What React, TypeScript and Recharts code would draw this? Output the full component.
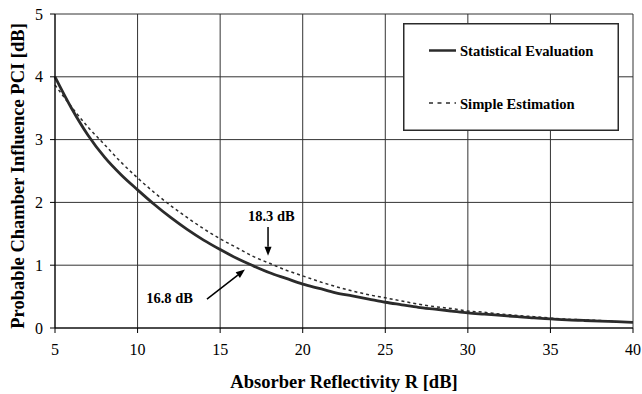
import React from "react";
import {
  LineChart,
  Line,
  XAxis,
  YAxis,
  CartesianGrid,
  ReferenceLine,
  ReferenceDot,
} from "recharts";

const reflectivity = [
  5, 6, 7, 8, 9, 10, 11, 12, 13, 14, 15, 16, 17, 18, 19, 20, 21, 22, 23, 24,
  25, 26, 27, 28, 29, 30, 31, 32, 33, 34, 35, 36, 37, 38, 39, 40,
];
const statistical = [
  4.0, 3.5, 3.07, 2.72, 2.44, 2.2, 1.97, 1.76, 1.57, 1.4, 1.25, 1.11, 0.99,
  0.88, 0.79, 0.7, 0.63, 0.56, 0.51, 0.46, 0.41, 0.37, 0.33, 0.3, 0.27, 0.24,
  0.22, 0.2, 0.18, 0.16, 0.145, 0.13, 0.12, 0.11, 0.1, 0.09,
];
const simple = [
  3.87, 3.52, 3.2, 2.92, 2.64, 2.39, 2.16, 1.95, 1.76, 1.58, 1.42, 1.28, 1.14,
  1.03, 0.92, 0.83, 0.74, 0.66, 0.59, 0.53, 0.48, 0.43, 0.38, 0.34, 0.31,
  0.27, 0.25, 0.22, 0.2, 0.18, 0.16, 0.14, 0.13, 0.12, 0.1, 0.09,
];
const xTicks = [5, 10, 15, 20, 25, 30, 35, 40];
const yTicks = [0, 1, 2, 3, 4, 5];
const seriesNames = ["Statistical Evaluation", "Simple Estimation"];
const annotationTexts = ["18.3 dB", "16.8 dB"];

const data = reflectivity.map((r, i) => ({
  r,
  stat: statistical[i],
  simple: simple[i],
}));

const FONT = "'Liberation Serif', 'Times New Roman', serif";
const INK = "#2b2b2b";

const Arrow = (props: any) => {
  const { x1, y1, x2, y2 } = props;
  const ang = Math.atan2(y2 - y1, x2 - x1);
  const L = 9;
  const W = 3.5;
  const bx = x2 - L * Math.cos(ang);
  const by = y2 - L * Math.sin(ang);
  const px = -Math.sin(ang) * W;
  const py = Math.cos(ang) * W;
  return (
    <g>
      <line x1={x1} y1={y1} x2={bx} y2={by} stroke="#000" strokeWidth={1.5} />
      <polygon
        points={`${x2},${y2} ${bx + px},${by + py} ${bx - px},${by - py}`}
        fill="#000"
      />
    </g>
  );
};

const LegendBox = () => (
  <svg width={216} height={108} style={{ display: "block" }}>
    <rect x={0.75} y={0.75} width={214.5} height={106.5} fill="#fff" stroke={INK} strokeWidth={1.5} />
    <line x1={26} y1={27.5} x2={53} y2={27.5} stroke={INK} strokeWidth={2.5} />
    <text x={57} y={28} dominantBaseline="central" fontFamily={FONT} fontWeight="bold" fontSize={14.6} fill="#000">
      {seriesNames[0]}
    </text>
    <line x1={26} y1={80} x2={53} y2={80} stroke={INK} strokeWidth={1.5} strokeDasharray="4 4.5" />
    <text x={57} y={80.5} dominantBaseline="central" fontFamily={FONT} fontWeight="bold" fontSize={14.6} fill="#000">
      {seriesNames[1]}
    </text>
  </svg>
);

export default function App() {
  const tickStyle = { fill: "#000", fontSize: 16, fontFamily: FONT };
  const annStyle = { fill: "#000", fontSize: 14.5, fontWeight: "bold", fontFamily: FONT };
  return (
    <div style={{ position: "absolute", left: 0, top: 0, width: 642, height: 394, background: "#fff" }}>
      <LineChart
        width={642}
        height={394}
        data={data}
        margin={{ top: 14, right: 9, left: 0, bottom: 0 }}
        style={{ fontFamily: FONT }}
      >
        <CartesianGrid stroke="#333" strokeWidth={1} />
        <XAxis
          dataKey="r"
          type="number"
          domain={[5, 40]}
          ticks={xTicks}
          height={66}
          tickSize={5}
          tickMargin={11}
          tick={tickStyle}
          axisLine={{ stroke: "#000" }}
          tickLine={{ stroke: "#000" }}
          label={{
            value: "Absorber Reflectivity R [dB]",
            position: "insideBottom",
            offset: 6,
            fill: "#000",
            fontSize: 18.5,
            fontWeight: "bold",
            fontFamily: FONT,
          }}
        />
        <YAxis
          type="number"
          domain={[0, 5]}
          ticks={yTicks}
          width={55}
          tickSize={5}
          tickMargin={7}
          tick={tickStyle}
          axisLine={{ stroke: "#000" }}
          tickLine={{ stroke: "#000" }}
          label={{
            content: () => (
              <text
                x={18}
                y={176}
                transform="rotate(-90 18 176)"
                textAnchor="middle"
                dominantBaseline="central"
                fontFamily={FONT}
                fontWeight="bold"
                fontSize={18.5}
                fill="#000"
              >
                Probable Chamber Influence PCI [dB]
              </text>
            ),
          }}
        />
        <Line
          dataKey="simple"
          name={seriesNames[1]}
          type="monotone"
          stroke={INK}
          strokeWidth={1.5}
          strokeDasharray="3 3"
          dot={false}
          isAnimationActive={false}
        />
        <Line
          dataKey="stat"
          name={seriesNames[0]}
          type="monotone"
          stroke={INK}
          strokeWidth={2.8}
          dot={false}
          isAnimationActive={false}
        />
        <ReferenceLine
          segment={[{ x: 17.9, y: 1.61 }, { x: 17.9, y: 1.15 }]}
          shape={Arrow}
        />
        <ReferenceLine
          segment={[{ x: 14.2, y: 0.46 }, { x: 16.5, y: 0.93 }]}
          shape={Arrow}
        />
        <ReferenceDot
          x={18.1}
          y={1.79}
          r={0}
          fill="none"
          stroke="none"
          label={{ value: annotationTexts[0], position: "center", ...annStyle }}
        />
        <ReferenceDot
          x={11.94}
          y={0.48}
          r={0}
          fill="none"
          stroke="none"
          label={{ value: annotationTexts[1], position: "center", ...annStyle }}
        />
      </LineChart>
      <div style={{ position: "absolute", left: 403, top: 23, width: 216, height: 108 }}>
        <LegendBox />
      </div>
    </div>
  );
}
